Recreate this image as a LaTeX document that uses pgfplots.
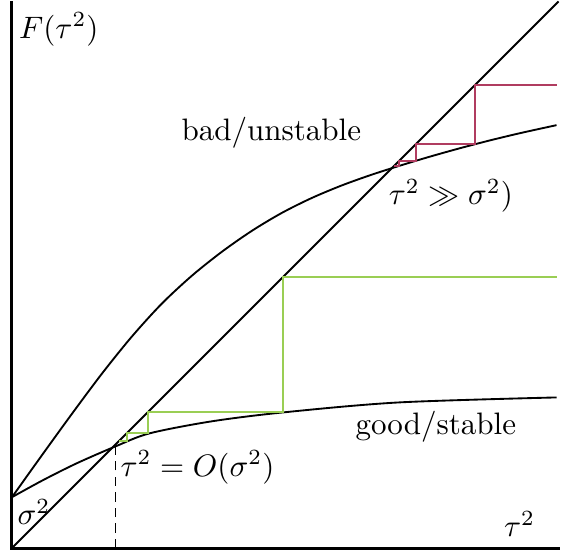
\documentclass[border=0pt]{standalone}
\usepackage{pgfplots}
\pgfplotsset{compat=1.18}
\usepackage{amssymb}
\definecolor{cobgreen}{RGB}{154,206,84}
\definecolor{cobred}{RGB}{176,60,96}
\begin{document}
\begin{tikzpicture}
\begin{axis}[
  x=0.3215pt, y=0.3215pt,
  xmin=-12, xmax=549, ymin=-4, ymax=548,
  axis line style={draw=none}, xtick=\empty, ytick=\empty,
  clip=false,
]
% axes
\addplot[black, line width=0.95pt] coordinates {(0,548) (0,0) (549,0)};
% identity line
\addplot[black, line width=0.6pt] coordinates {(0,0) (548,548)};
% stable map
\addplot[black, line width=0.6pt, smooth] coordinates {
  (0,51) (31,68) (65,85) (104,102) (138,115) (200,127) (272,136) (388,146) (546,151)};
% unstable map
\addplot[black, line width=0.6pt, smooth] coordinates {
  (0,51) (30,93) (60,134.4) (90,174.6) (120,211.8) (150,244.8) (180,272.7)
  (210,296.7) (240,317.7) (270,335.7) (300,350.7) (330,363.3) (360,374.1)
  (390,383.7) (420,392.7) (450,401.1) (480,408.9) (510,416.1) (546,424)};
% iterations
\addplot[cobgreen, line width=0.6pt] coordinates {
  (546,272) (272,272) (272,136) (136,136) (136,115) (115,115) (115,107) (107,107)};
\addplot[cobred, line width=0.6pt] coordinates {
  (546,464) (464,464) (464,405) (405,405) (405,388) (388,388) (388,383) (383,383)};
% fixed point marker
\addplot[black, densely dashed, line width=0.4pt] coordinates {(104,0) (104,102)};
% labels
\node at (axis cs:47,520) {$F(\tau^2)$};
\node at (axis cs:260,416) {bad/unstable};
\node at (axis cs:440,353) {$\tau^2 \gg \sigma^2)$};
\node at (axis cs:425,122) {good/stable};
\node at (axis cs:186,81) {$\tau^2 = O(\sigma^2)$};
\node at (axis cs:22,36) {$\sigma^2$};
\node at (axis cs:509,24) {$\tau^2$};
\end{axis}
\end{tikzpicture}
\end{document}
